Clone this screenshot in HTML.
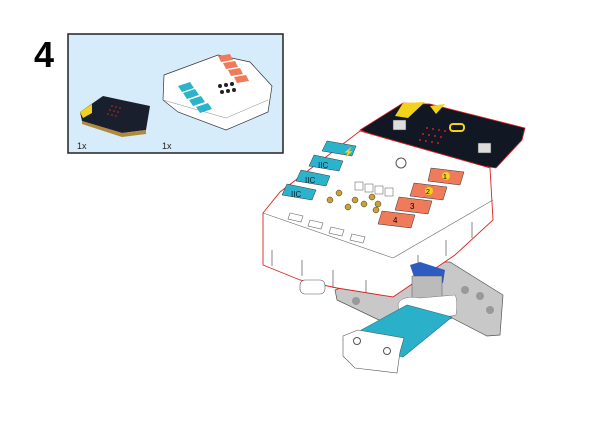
<!DOCTYPE html>
<html><head><style>
body{margin:0;background:#fff;width:600px;height:424px;overflow:hidden;font-family:"Liberation Sans",sans-serif}
</style></head><body>
<svg width="600" height="424" viewBox="0 0 600 424" xmlns="http://www.w3.org/2000/svg">
<text x="34" y="67" font-family="Liberation Sans" font-weight="bold" font-size="36" fill="#000">4</text>
<rect x="68" y="34" width="215" height="119" fill="#d6ecfb" stroke="#222" stroke-width="1.5"/>
<!-- small microbit -->
<polygon points="80,112 103,96 150,106 146,130 122,133 82,121" fill="#1a1f2e"/>
<polygon points="80,112 92,104 92,113 83,118" fill="#f2d21a"/>
<polygon points="82,121 122,133 146,130 146,134 122,137 82,124" fill="#b08a3a"/>
<g fill="#d22">
<circle cx="112" cy="106" r="0.8"/><circle cx="116" cy="107" r="0.8"/><circle cx="120" cy="108" r="0.8"/><circle cx="110" cy="110" r="0.8"/><circle cx="114" cy="111" r="0.8"/><circle cx="118" cy="112" r="0.8"/><circle cx="108" cy="114" r="0.8"/><circle cx="112" cy="115" r="0.8"/><circle cx="116" cy="116" r="0.8"/>
</g>
<text x="77" y="149" font-size="9" fill="#222">1x</text>
<!-- small expansion board -->
<polygon points="164,75 218,55 250,62 272,86 268,112 226,130 178,112 163,100" fill="#fff" stroke="#333" stroke-width="0.7"/>
<line x1="163" y1="100" x2="226" y2="118" stroke="#888" stroke-width="0.5"/>
<line x1="226" y1="118" x2="268" y2="100" stroke="#888" stroke-width="0.5"/>
<polygon points="178,86 190,82 194,88 182,92" fill="#2cb3cc"/>
<polygon points="183,93 195,89 199,95 187,99" fill="#2cb3cc"/>
<polygon points="189,100 201,96 205,102 193,106" fill="#2cb3cc"/>
<polygon points="196,107 208,103 212,109 200,113" fill="#2cb3cc"/>
<polygon points="218,56 230,54 233,60 221,62" fill="#ef7b5a"/>
<polygon points="223,63 235,61 238,67 226,69" fill="#ef7b5a"/>
<polygon points="228,70 240,68 243,74 231,76" fill="#ef7b5a"/>
<polygon points="234,77 246,75 249,81 237,83" fill="#ef7b5a"/>
<g fill="#222"><circle cx="220" cy="86" r="2"/><circle cx="226" cy="85" r="2"/><circle cx="232" cy="84" r="2"/><circle cx="222" cy="92" r="2"/><circle cx="228" cy="91" r="2"/><circle cx="234" cy="90" r="2"/></g>
<text x="162" y="149" font-size="9" fill="#222">1x</text>
<!-- main: microbit board behind -->
<polygon points="360,130 403,103 430,104 525,128 522,140 496,168 440,160" fill="#111824" stroke="#d22" stroke-width="0.8"/>
<polygon points="403,103 425,102 408,118 395,116" fill="#f2d21a"/>
<polygon points="430,106 445,104 436,114" fill="#f2d21a"/>
<rect x="450" y="124" width="14" height="7" rx="3" fill="none" stroke="#f2d21a" stroke-width="2"/>
<g fill="#c22">
<circle cx="427" cy="128" r="1"/><circle cx="433" cy="129" r="1"/><circle cx="439" cy="130" r="1"/><circle cx="445" cy="131" r="1"/>
<circle cx="423" cy="134" r="1"/><circle cx="429" cy="135" r="1"/><circle cx="435" cy="136" r="1"/><circle cx="441" cy="137" r="1"/>
<circle cx="420" cy="140" r="1"/><circle cx="426" cy="141" r="1"/><circle cx="432" cy="142" r="1"/><circle cx="438" cy="143" r="1"/>
</g>
<rect x="393" y="120" width="13" height="10" fill="#ddd" stroke="#333" stroke-width="0.5"/>
<rect x="478" y="143" width="13" height="10" fill="#ddd" stroke="#333" stroke-width="0.5"/>
<!-- grey beam -->
<polygon points="335,290 410,262 450,262 503,295 500,335 487,336 452,318 420,330 400,330 337,300" fill="#c8c8c8" stroke="#555" stroke-width="0.7"/>
<circle cx="356" cy="301" r="4" fill="#999"/>
<circle cx="465" cy="290" r="4" fill="#999"/><circle cx="480" cy="296" r="4" fill="#999"/><circle cx="490" cy="310" r="4" fill="#999"/>
<!-- white body -->
<polygon points="263,213 280,192 360,131 490,168 493,220 455,255 393,297 337,288 300,280 263,265" fill="#fff" stroke="#d22" stroke-width="0.9"/>
<line x1="263" y1="213" x2="393" y2="258" stroke="#666" stroke-width="0.6"/>
<line x1="393" y1="258" x2="493" y2="200" stroke="#666" stroke-width="0.6"/>
<g stroke="#555" stroke-width="0.7">
<line x1="272" y1="250" x2="272" y2="266"/><line x1="302" y1="260" x2="302" y2="276"/><line x1="333" y1="270" x2="333" y2="288"/><line x1="366" y1="280" x2="366" y2="293"/>
<line x1="418" y1="255" x2="418" y2="270"/><line x1="446" y1="240" x2="446" y2="256"/><line x1="472" y1="222" x2="472" y2="238"/>
</g>
<g fill="#fff" stroke="#666" stroke-width="0.6">
<polygon points="290,213 303,216 301,222 288,219"/><polygon points="310,220 323,223 321,229 308,226"/><polygon points="331,227 344,230 342,236 329,233"/><polygon points="352,234 365,237 363,243 350,240"/>
</g>
<rect x="300" y="280" width="25" height="14" rx="5" fill="#fff" stroke="#555" stroke-width="0.6"/>
<!-- cyan buttons -->
<polygon points="327,141 356,146 352,156 322,151" fill="#2cb3cc" stroke="#333" stroke-width="0.5"/>
<polygon points="314,155 343,161 339,171 309,166" fill="#2cb3cc" stroke="#333" stroke-width="0.5"/>
<polygon points="301,170 330,176 326,186 296,181" fill="#2cb3cc" stroke="#333" stroke-width="0.5"/>
<polygon points="287,184 316,190 312,200 282,195" fill="#2cb3cc" stroke="#333" stroke-width="0.5"/>
<text x="343" y="155" font-size="9" fill="#123">⚡</text>
<text x="318" y="168" font-size="8" fill="#123">IIC</text>
<text x="305" y="183" font-size="8" fill="#123">IIC</text>
<text x="291" y="197" font-size="8" fill="#123">IIC</text>
<circle cx="401" cy="163" r="5" fill="#fff" stroke="#555"/>
<g fill="#fff" stroke="#555" stroke-width="0.5">
<rect x="355" y="182" width="8" height="8"/><rect x="365" y="184" width="8" height="8"/><rect x="375" y="186" width="8" height="8"/><rect x="385" y="188" width="8" height="8"/>
</g>
<g fill="#c9a232" stroke="#333" stroke-width="0.5">
<circle cx="330" cy="200" r="3"/><circle cx="339" cy="193" r="3"/><circle cx="348" cy="207" r="3"/><circle cx="355" cy="200" r="3"/>
<circle cx="364" cy="204" r="3"/><circle cx="372" cy="197" r="3"/><circle cx="376" cy="210" r="3"/><circle cx="378" cy="204" r="3"/>
</g>
<!-- orange buttons -->
<polygon points="431,168 464,172 460,185 428,181" fill="#ef7b5a" stroke="#333" stroke-width="0.5"/>
<polygon points="414,183 447,187 443,200 410,196" fill="#ef7b5a" stroke="#333" stroke-width="0.5"/>
<polygon points="399,197 432,201 428,214 395,210" fill="#ef7b5a" stroke="#333" stroke-width="0.5"/>
<polygon points="382,211 415,215 411,228 378,224" fill="#ef7b5a" stroke="#333" stroke-width="0.5"/>
<circle cx="446" cy="176" r="4" fill="#f2d21a"/><text x="443" y="179" font-size="7">1</text>
<circle cx="429" cy="191" r="4" fill="#f2d21a"/><text x="426" y="194" font-size="7">2</text>
<text x="410" y="209" font-size="8">3</text>
<text x="393" y="223" font-size="8">4</text>
<!-- blue cube -->
<polygon points="410,265 420,262 445,270 443,283 415,280" fill="#2d5bbf"/>
<rect x="412" y="276" width="30" height="28" fill="#bbb" stroke="#555" stroke-width="0.5"/>
<path d="M398,305 Q400,295 420,298 L455,295 Q458,300 456,315 L430,320 L400,318 Z" fill="#fff" stroke="#777" stroke-width="0.5"/>
<!-- blue plate -->
<polygon points="343,340 407,305 452,317 403,357" fill="#2bb0ca" stroke="#2a6f80" stroke-width="0.6"/>
<!-- white block -->
<polygon points="343,336 358,330 404,338 400,352 397,373 355,368 343,356" fill="#fff" stroke="#555" stroke-width="0.6"/>
<circle cx="357" cy="341" r="3.5" fill="#fff" stroke="#555"/>
<circle cx="387" cy="351" r="3.5" fill="#fff" stroke="#555"/>
</svg>
</body></html>
